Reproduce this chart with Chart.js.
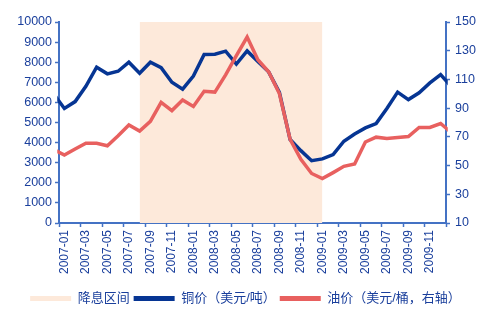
<!DOCTYPE html>
<html>
<head>
<meta charset="utf-8">
<script src="https://cdn.jsdelivr.net/npm/chart.js@4/dist/chart.umd.min.js"></script>
<style>
  html, body { margin: 0; padding: 0; background: #fff; }
  #wrap { width: 491px; height: 325px; position: relative; }
</style>
</head>
<body>
<div id="wrap"><canvas id="priceChart"></canvas></div>
<script>
// months (first and last are only there so the lines run to the edges)
const months = [
  '2006-12',
  '2007-01', '2007-02', '2007-03', '2007-04', '2007-05', '2007-06',
  '2007-07', '2007-08', '2007-09', '2007-10', '2007-11', '2007-12',
  '2008-01', '2008-02', '2008-03', '2008-04', '2008-05', '2008-06',
  '2008-07', '2008-08', '2008-09', '2008-10', '2008-11', '2008-12',
  '2009-01', '2009-02', '2009-03', '2009-04', '2009-05', '2009-06',
  '2009-07', '2009-08', '2009-09', '2009-10', '2009-11', '2009-12',
  '2010-01'
];

const copperPrice = [
  6430,
  5700, 6040, 6800, 7750, 7420, 7550, 8000, 7450, 8000, 7730, 7000, 6660,
  7310, 8380, 8400, 8550, 7910, 8560, 8030, 7520, 6500, 4150, 3600, 3100,
  3190, 3400, 4070, 4430, 4730, 4950, 5700, 6510, 6140, 6480, 6970, 7380,
  6790
];

const oilPrice = [
  61.3,
  57.3, 61.5, 65.5, 65.5, 63.8, 70.7, 78.3, 74, 80.8, 94, 88.3, 95.7,
  91.2, 101.8, 101.2, 113.2, 126.6, 139.5, 123.7, 115.3, 100.2, 68.3, 54.3, 44.5,
  40.9, 45.1, 49.5, 51.1, 66.4, 69.8, 68.8, 69.5, 70.2, 76.6, 76.6, 79.3,
  73
];

// shaded rate-cut window, from point to point
const cutPeriod = ['2007-08', '2009-01'];
const visibleRange = ['2007-01', '2009-12'];
const leftTicks = { min: 0, max: 10000, step: 1000 };
const rightTicks = { min: 10, max: 150, step: 20 };

const seriesNames = ['降息区间', '铜价（美元/吨）', '油价（美元/桶，右轴）'];

const axisColor = '#4472c4';
const textColor = '#1a3f9c';
const fontFamily = "'Liberation Sans', Arial, 'Noto Sans CJK SC', sans-serif";

const cutStart = months.indexOf(cutPeriod[0]);
const cutEnd = months.indexOf(cutPeriod[1]);
const cutArea = months.map((m, i) => (i >= cutStart && i <= cutEnd ? leftTicks.max : null));

const ctx = document.getElementById('priceChart');

new Chart(ctx, {
  type: 'line',
  data: {
    labels: months,
    datasets: [
      {
        label: seriesNames[0],
        data: cutArea,
        fill: 'origin',
        backgroundColor: '#fde9da',
        borderColor: '#fde9da',
        borderWidth: 0,
        pointRadius: 0,
        spanGaps: false,
        yAxisID: 'y',
        order: 2
      },
      {
        label: seriesNames[1],
        data: copperPrice,
        borderColor: '#063593',
        backgroundColor: '#063593',
        borderWidth: 3.5,
        pointRadius: 0,
        tension: 0,
        yAxisID: 'y',
        order: 1
      },
      {
        label: seriesNames[2],
        data: oilPrice,
        borderColor: '#e8605f',
        backgroundColor: '#e8605f',
        borderWidth: 3.5,
        pointRadius: 0,
        tension: 0,
        yAxisID: 'y2',
        order: 0
      }
    ]
  },
  options: {
    responsive: true,
    maintainAspectRatio: false,
    animation: false,
    layout: { padding: { top: 22, left: 0, right: 0, bottom: 10 } },
    plugins: {
      tooltip: { enabled: false },
      legend: {
        position: 'bottom',
        labels: {
          boxWidth: 41,
          boxHeight: 5,
          padding: 4,
          color: textColor,
          font: { family: fontFamily, size: 13 },
          generateLabels(chart) {
            const items = Chart.defaults.plugins.legend.labels.generateLabels(chart);
            items.sort((a, b) => a.datasetIndex - b.datasetIndex);
            items.forEach(item => {
              item.lineWidth = 0;
              item.fillStyle = chart.data.datasets[item.datasetIndex].backgroundColor;
            });
            return items;
          }
        }
      }
    },
    scales: {
      x: {
        type: 'category',
        offset: true,
        // narrow the view without user min/max so the lines still reach the edge points
        afterDataLimits(scale) {
          scale.min = months.indexOf(visibleRange[0]);
          scale.max = months.indexOf(visibleRange[1]);
        },
        grid: {
          offset: true,
          drawOnChartArea: false,
          drawTicks: true,
          tickLength: 4,
          tickWidth: 1.5,
          tickColor: c => (c.index % 2 ? 'rgba(0,0,0,0)' : axisColor)
        },
        border: { display: true, color: axisColor, width: 2 },
        ticks: {
          autoSkip: false,
          minRotation: 90,
          maxRotation: 90,
          padding: 3,
          color: textColor,
          font: { family: fontFamily, size: 12 },
          callback(value, index) {
            return index % 2 === 0 ? this.getLabelForValue(value) : '';
          }
        },
        afterFit(scale) { scale.height = 65; }
      },
      y: {
        position: 'left',
        min: leftTicks.min,
        max: leftTicks.max,
        grid: {
          drawOnChartArea: false,
          drawTicks: true,
          tickLength: 4,
          tickWidth: 1.5,
          tickColor: axisColor
        },
        border: { display: true, color: axisColor, width: 2 },
        ticks: {
          stepSize: leftTicks.step,
          padding: 3,
          color: textColor,
          font: { family: fontFamily, size: 12.5 },
          callback: value => String(value)
        },
        afterFit(scale) { scale.width = 59; }
      },
      y2: {
        position: 'right',
        min: rightTicks.min,
        max: rightTicks.max,
        grid: {
          drawOnChartArea: false,
          drawTicks: true,
          tickLength: 4,
          tickWidth: 1.5,
          tickColor: axisColor
        },
        border: { display: true, color: axisColor, width: 2 },
        ticks: {
          stepSize: rightTicks.step,
          padding: 5,
          color: textColor,
          font: { family: fontFamily, size: 12.5 },
          callback: value => String(value)
        },
        afterFit(scale) { scale.width = 45; }
      }
    }
  }
});
</script>
</body>
</html>
